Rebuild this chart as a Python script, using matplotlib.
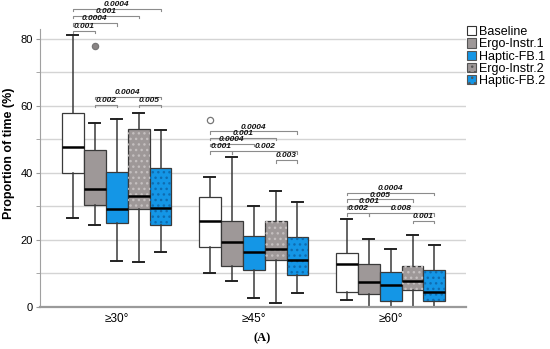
import matplotlib
matplotlib.use("Agg")
import matplotlib.pyplot as plt
from matplotlib.patches import Patch, PathPatch

plt.rcParams['font.family'] = ['Liberation Sans', 'DejaVu Sans']

groups = ['≥30°', '≥45°', '≥60°']
series = ['Baseline', 'Ergo-Instr.1', 'Haptic-FB.1', 'Ergo-Instr.2', 'Haptic-FB.2']

# per series, values for the three groups
whishi = [[81.2, 38.8, 26.2], [55.0, 44.9, 20.2], [56.0, 30.1, 17.2], [58.0, 34.6, 21.6], [52.8, 31.3, 18.6]]
q3 = [[58.0, 32.8, 16.2], [46.9, 25.6, 12.9], [40.2, 21.3, 10.5], [53.0, 25.6, 12.2], [41.6, 20.9, 11.1]]
med = [[47.8, 25.6, 12.7], [35.1, 19.3, 7.6], [29.3, 16.4, 6.5], [33.2, 17.3, 7.7], [29.6, 13.9, 4.4]]
q1 = [[40.0, 17.8, 4.5], [30.4, 12.3, 3.8], [25.0, 11.0, 1.9], [29.2, 13.9, 5.1], [24.6, 9.6, 1.7]]
whislo = [[26.7, 10.1, 2.1], [24.6, 7.8, 0.1], [13.8, 2.8, 0.0], [13.3, 1.3, 0.0], [16.5, 4.3, 0.0]]
fliers = [[[], [55.7], []], [[77.8], [], []], [[], [], []], [[], [], []], [[], [], []]]

# significance brackets: (group, series a, series b, height, label)
sig_group = [0, 0, 0, 0, 0, 0, 0,
             1, 1, 1, 1, 1, 1,
             2, 2, 2, 2, 2, 2]
sig_a = [0, 0, 0, 0, 1, 1, 3,
         0, 0, 0, 0, 1, 3,
         0, 0, 0, 0, 1, 3]
sig_b = [1, 2, 3, 4, 2, 4, 4,
         1, 2, 3, 4, 4, 4,
         1, 2, 3, 4, 4, 4]
sig_h = [82.5, 84.7, 86.9, 89.0, 60.4, 62.8, 60.4,
         46.6, 48.7, 50.5, 52.4, 46.6, 43.9,
         28.1, 30.1, 32.1, 34.1, 28.1, 25.8]
sig_p = ['0.001', '0.0004', '0.001', '0.0004', '0.002', '0.0004', '0.005',
         '0.001', '0.0004', '0.001', '0.0004', '0.002', '0.003',
         '0.002', '0.001', '0.005', '0.0004', '0.008', '0.001']

face = ['white', '#9e9898', '#1496e6', '#9e9898', '#1496e6']
dots = [None, None, None, '#c4bfbf', '#0f6cb0']
flier_face = ['white', '#8a8585', 'white', 'white', 'white']

bw = 0.16
fig = plt.figure(figsize=(5.5, 3.49), dpi=100)
ax = fig.add_axes([0.0727, 0.1203, 0.7745, 0.8797])

def pos(g, s):
    return g + (s - 2) * bw

for s in range(len(series)):
    stats = []
    for g in range(len(groups)):
        stats.append(dict(med=med[s][g], q1=q1[s][g], q3=q3[s][g],
                          whislo=whislo[s][g], whishi=whishi[s][g],
                          fliers=fliers[s][g]))
    res = ax.bxp(stats, positions=[pos(g, s) for g in range(len(groups))],
                 widths=bw, patch_artist=True, manage_ticks=False,
                 boxprops=dict(facecolor=face[s], edgecolor='#3a3a3a', linewidth=0.9),
                 medianprops=dict(color='black', linewidth=1.8),
                 whiskerprops=dict(color='#3a3a3a', linewidth=1.1),
                 capprops=dict(color='#222222', linewidth=1.4),
                 capwidths=bw * 0.5,
                 flierprops=dict(marker='o', markersize=4.5, markerfacecolor=flier_face[s],
                                 markeredgecolor='#777777', markeredgewidth=0.9))
    if dots[s] is not None:
        for b in res['boxes']:
            hp = PathPatch(b.get_path(), facecolor='none', edgecolor=dots[s],
                           hatch='...', linewidth=0, zorder=b.get_zorder() + 0.1)
            ax.add_patch(hp)
        for m in res['medians']:
            m.set_zorder(3)

# significance brackets
tick = 0.8
for g, a, b, h, p in zip(sig_group, sig_a, sig_b, sig_h, sig_p):
    xa, xb = pos(g, a), pos(g, b)
    ax.plot([xa, xa, xb, xb], [h - tick, h, h, h - tick], color='#8c8c8c',
            linewidth=0.8, clip_on=False, zorder=4)
    ax.text((xa + xb) / 2, h + 0.2, p, ha='center', va='bottom', fontsize=6,
            fontweight='bold', fontstyle='italic', color='#111111', clip_on=False, zorder=5)

ax.set_xlim(-0.56, 2.55)
ax.set_ylim(0, 91.6)
ax.set_xticks(range(len(groups)))
ax.set_xticklabels(groups, fontsize=8.5)
ax.tick_params(axis='x', length=0, pad=4)
ax.set_yticks([0, 20, 40, 60, 80])
ax.set_yticks([10, 30, 50, 70], minor=True)
ax.tick_params(axis='y', which='both', length=3, color='#999999', labelsize=8, pad=2)
ax.yaxis.grid(True, which='both', color='#d4d4d4', linewidth=1.0)
ax.set_axisbelow(True)
for sp in ['top', 'right']:
    ax.spines[sp].set_visible(False)
ax.spines['left'].set_color('#a0a0a0')
ax.spines['left'].set_bounds(0, 83)
ax.spines['bottom'].set_color('#9a9a9a')
ax.spines['bottom'].set_linewidth(1.6)
ax.set_ylabel('Proportion of time (%)', fontsize=9, fontweight='bold', labelpad=4)

handles = []
for s in range(len(series)):
    handles.append(Patch(facecolor=face[s], edgecolor='#333333' if s == 0 else '#555555',
                         linewidth=0.8, hatch='...' if dots[s] else None))
leg = fig.legend(handles, series, loc='upper left', bbox_to_anchor=(0.849, 0.925),
                 frameon=False, fontsize=9, handlelength=0.75, handleheight=0.75,
                 handletextpad=0.2, labelspacing=0.02, borderaxespad=0, borderpad=0)

fig.text(0.476, 0.03, '(A)', fontsize=9, fontweight='bold', family='Liberation Serif',
         ha='center', va='center')

fig.savefig('out.png', dpi=100)
